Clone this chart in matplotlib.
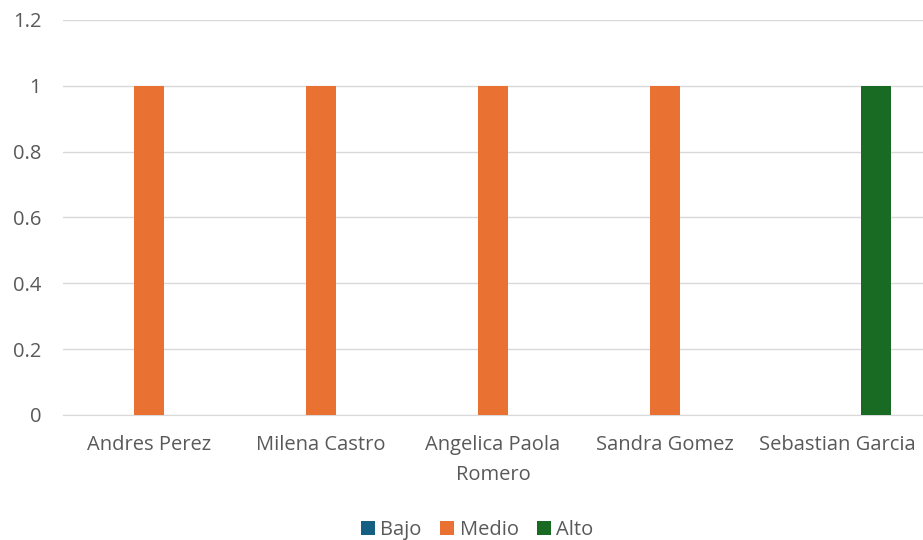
import numpy as np
import matplotlib.pyplot as plt

categories = ["Andres Perez", "Milena Castro", "Angelica Paola\nRomero", "Sandra Gomez", "Sebastian Garcia"]
bajo = [0, 0, 0, 0, 0]
medio = [1, 1, 1, 1, 0]
alto = [0, 0, 0, 0, 1]

series = [("Bajo", bajo, "#156082"), ("Medio", medio, "#E97132"), ("Alto", alto, "#196B24")]

plt.rcParams['font.family'] = ['Open Sans', 'DejaVu Sans']

fig = plt.figure(figsize=(9.23, 5.4), dpi=100)
ax = fig.add_axes([0.068, 0.2315, 0.932, 0.7315])

x = np.arange(len(categories))
w = 0.174
step = 0.226
for i, (name, vals, col) in enumerate(series):
    ax.bar(x + (i - 1) * step, vals, width=w, color=col, label=name, zorder=3)

ax.set_xlim(-0.5, len(categories) - 0.5)
ax.set_ylim(0, 1.2)
yt = [0, 0.2, 0.4, 0.6, 0.8, 1, 1.2]
ax.set_yticks(yt)
ax.set_yticklabels(["0", "0.2", "0.4", "0.6", "0.8", "1", "1.2"])
ax.set_xticks(x)
ax.set_xticklabels(categories, linespacing=1.65)
ax.grid(axis='y', color='#D9D9D9', linewidth=1, zorder=0)
for s in ["top", "right", "left"]:
    ax.spines[s].set_visible(False)
ax.spines["bottom"].set_color('#D9D9D9')
ax.tick_params(axis='both', length=0, labelsize=14.5, colors='#595959')
ax.tick_params(axis='y', pad=15.5)
ax.tick_params(axis='x', pad=14.5)

fig.legend(loc='center', bbox_to_anchor=(0.517, 0.019), ncol=3, frameon=False,
           fontsize=14.5, handlelength=0.7, handleheight=0.7, handletextpad=0.28,
           columnspacing=0.9, labelcolor='#595959')

fig.savefig("out.png", dpi=100)
